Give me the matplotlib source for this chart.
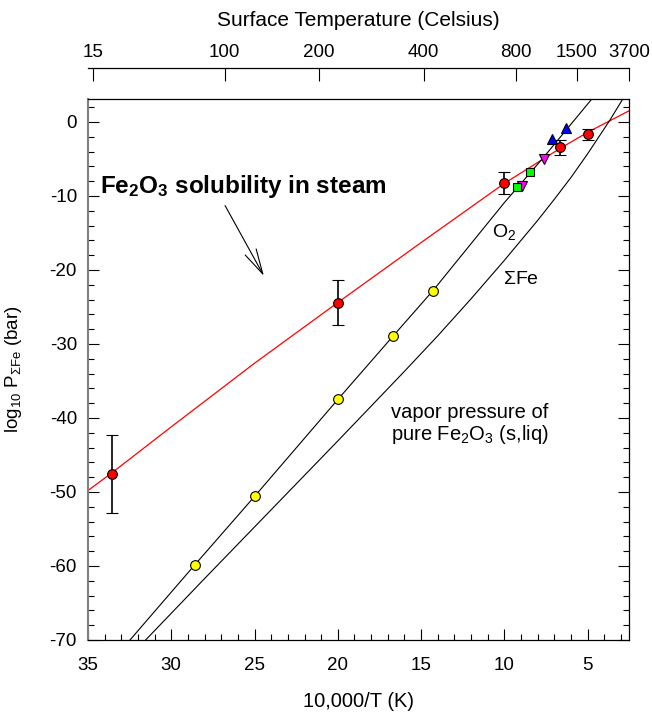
import matplotlib
matplotlib.use("Agg")
import matplotlib.pyplot as plt
from matplotlib.ticker import MultipleLocator, NullLocator

plt.rcParams['font.family'] = ['Liberation Sans', 'DejaVu Sans']
plt.rcParams['mathtext.fontset'] = 'custom'
plt.rcParams['mathtext.rm'] = 'Liberation Sans'
plt.rcParams['mathtext.it'] = 'Liberation Sans:italic'
plt.rcParams['mathtext.bf'] = 'Liberation Sans:bold'
plt.rcParams['axes.unicode_minus'] = False

# ---- data (x = 10,000/T, y = log10 P) ----
# red curve: Fe2O3 solubility in steam
sol_x = [35, 33.56, 30, 25, 20, 15, 10, 6.67, 5, 2.52]
sol_y = [-49.8, -47.4, -41.2, -32.6, -24.4, -16.3, -8.3, -3.6, -1.4, 1.5]
# O2 curve
o2_x = [32.48, 28.57, 25, 20, 16.67, 14.29, 10, 7.69, 4.75]
o2_y = [-70, -59.8, -50.6, -37.5, -28.9, -22.8, -10.9, -4.9, 3.1]
# sum Fe curve (vapor pressure of pure Fe2O3)
fe_x = [31.54, 28, 24, 20, 16, 14, 12, 10, 8, 7, 6, 5, 4, 3.69, 2.89]
fe_y = [-70, -61.7, -52.4, -43.1, -33.7, -28.9, -23.9, -18.7, -13.3, -10.45,
        -7.5, -4.3, -0.9, 0.15, 3.1]

# red points with error bars
red_x = [33.56, 20, 10, 6.67, 5]
red_y = [-47.6, -24.4, -8.25, -3.4, -1.66]
red_err = [5.25, 3.1, 1.55, 1.0, 0.74]
# yellow points on O2 line
yel_x = [28.57, 25, 20, 16.67, 14.29]
yel_y = [-59.8, -50.6, -37.5, -28.9, -22.8]
# other symbols
blue_x = [7.14, 6.28]
blue_y = [-2.3, -0.77]
mag_x = [7.63, 8.95]
mag_y = [-5.0, -8.6]
grn_x = [8.48, 9.25]
grn_y = [-6.8, -8.8]

# top axis (Celsius)
celsius = [15, 100, 200, 400, 800, 1500, 3700]

fig = plt.figure(figsize=(6.52, 7.17), dpi=100)
ax = fig.add_axes([88/652, 1-640/717, (629-88)/652, (640-99)/717])

xmax_right = 10000/(3700+273.15)
ax.set_xlim(35, xmax_right)
ax.set_ylim(-70, 3.1)

ax.plot(sol_x, sol_y, color='red', lw=0.9, zorder=2)
ax.plot(o2_x, o2_y, color='black', lw=0.8, zorder=2)
ax.plot(fe_x, fe_y, color='black', lw=0.8, zorder=2)

ax.errorbar(red_x, red_y, yerr=red_err, fmt='o', mfc='red', mec='black',
            ms=7, mew=0.8, ecolor='black', elinewidth=1.2, capsize=4.3,
            capthick=1.2, zorder=4)
ax.plot(yel_x, yel_y, 'o', mfc='yellow', mec='black', ms=7, mew=0.8, zorder=4)
ax.plot(blue_x, blue_y, '^', mfc='blue', mec='black', ms=7.5, mew=0.8, zorder=4)
ax.plot(mag_x, mag_y, 'v', mfc='magenta', mec='black', ms=7.5, mew=0.8, zorder=4)
ax.plot(grn_x, grn_y, 's', mfc='#00ff00', mec='black', ms=6, mew=0.8, zorder=4)

# annotations
ax.text(34.28, -9.55, r'Fe$_\mathbf{2}$O$_\mathbf{3}$ solubility in steam',
        fontsize=17.5, fontweight='bold', va='baseline', ha='left')
ax.annotate('', xy=(24.44, -20.8), xytext=(26.77, -11.3),
            arrowprops=dict(arrowstyle='->,head_length=1.2,head_width=0.3',
                            color='black', lw=0.8, mutation_scale=15,
                            shrinkA=0, shrinkB=0))
ax.text(10.76, -15.5, r'O$_2$', fontsize=14, va='baseline', ha='left')
ax.text(10.1, -21.9, r'$\Sigma$Fe', fontsize=14, va='baseline', ha='left')
ax.text(16.8, -40.0, 'vapor pressure of', fontsize=14.5, va='baseline', ha='left')
ax.text(16.8, -43.0, r'pure Fe$_2$O$_3$ (s,liq)', fontsize=14.5, va='baseline', ha='left')

# ticks
ax.xaxis.set_major_locator(MultipleLocator(5))
ax.xaxis.set_minor_locator(MultipleLocator(1))
ax.yaxis.set_major_locator(MultipleLocator(10))
ax.yaxis.set_minor_locator(MultipleLocator(2))
ax.tick_params(which='both', direction='in', top=True, right=True, labelsize=13.5)
ax.tick_params(which='major', length=8, width=0.8)
ax.tick_params(which='minor', length=4, width=0.8)
ax.tick_params(axis='x', pad=12)
ax.tick_params(axis='y', pad=8)
ax.spines['left'].set_color('#808080')
ax.spines['left'].set_linewidth(1.5)
for s in ['bottom', 'top', 'right']:
    ax.spines[s].set_linewidth(0.9)

ax.set_xlabel('10,000/T (K)', fontsize=14.5, labelpad=13)
ax.set_ylabel(r'log$_{10}$ P$_{\Sigma\mathrm{Fe}}$ (bar)', fontsize=13.5)
ax.yaxis.set_label_coords(-0.118, 0.5)

# top Celsius axis
ax2 = ax.twiny()
ax2.set_xlim(ax.get_xlim())
ax2.set_xticks([10000/(c+273.15) for c in celsius])
ax2.set_xticklabels([str(c) for c in celsius])
ax2.xaxis.set_minor_locator(NullLocator())
ax2.spines['top'].set_position(('outward', 22.3))
for s in ['bottom', 'left', 'right']:
    ax2.spines[s].set_visible(False)
ax2.spines['top'].set_linewidth(0.9)
ax2.tick_params(direction='in', length=9.4, width=0.8, labelsize=13.5, pad=5)
ax2.set_xlabel('Surface Temperature (Celsius)', fontsize=15, labelpad=13)

fig.savefig('out.png', dpi=100)
